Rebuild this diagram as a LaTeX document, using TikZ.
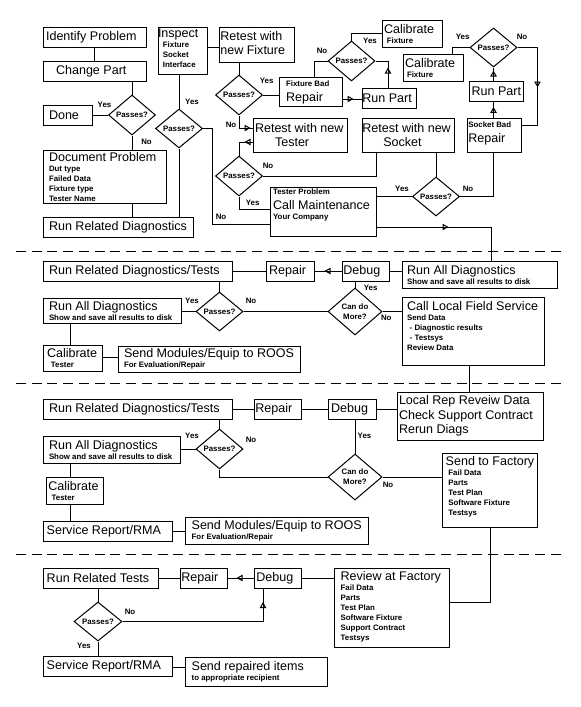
\documentclass[tikz,border=0pt]{standalone}
\usepackage{fontspec}
\setmainfont{Liberation Sans}
\usetikzlibrary{shapes.geometric,arrows.meta,decorations.markings}
\newcommand\bigtxt{\fontsize{9.4pt}{11pt}\selectfont\mdseries}
\newcommand\smtxt{\fontsize{5.9pt}{7.5pt}\selectfont\bfseries}
\newcommand\tB[1]{{\bigtxt\mbox{#1}\par}}
\newcommand\tS[1]{{\smtxt\mbox{#1}\par}}
\newcommand\indl[1]{\leftskip=#1\relax}
\newcommand\bx[7]{%
  \pgfmathsetlengthmacro\bxw{(#4-#2)*0.75pt-2pt}%
  \pgfmathsetlengthmacro\bxh{(#5-#3)*0.75pt-3pt}%
  \node[bxs] (#1) at ({(#2+#4)/2},{(#3+#5)/2}) {\parbox[c][\bxh][#6]{\bxw}{\raggedright #7}};%
}
\tikzset{
  bxs/.style={draw, line width=0.75pt, fill=white, inner xsep=1pt, inner ysep=1.5pt},
  dia/.style={draw, diamond, line width=0.75pt, fill=white, inner sep=0pt, font=\smtxt, align=center},
  lbl/.style={font=\smtxt, inner sep=0pt},
  marr/.style={postaction={decorate}, decoration={markings, mark=at position #1 with {\arrow{Triangle[open,length=4.5pt,width=4.8pt]}}}},
  dashsep/.style={line width=0.75pt, dash pattern=on 7.5pt off 4.3pt}
}
\begin{document}
\begin{tikzpicture}[x=0.75pt, y=-0.75pt, line width=0.75pt]
\fill[white] (0,0) rectangle (581,707);
\useasboundingbox (0,0) rectangle (581,707);

% ---------- Section 1 boxes
\bx{ip}{43}{27}{146}{47}{c}{\indl{1.3pt}\tB{Identify Problem}}
\bx{cp}{43}{61}{146}{81}{c}{\indl{8.8pt}\tB{Change Part}}
\bx{done}{43}{105}{92}{125}{c}{\indl{3.5pt}\tB{Done}}
\bx{dp}{43}{150}{166}{203}{c}{\indl{3.5pt}\tB{Document Problem}\tS{Dut type}\tS{Failed Data}\tS{Fixture type}\tS{Tester Name}}
\bx{rrd}{43}{217}{193}{237}{c}{\indl{3.5pt}\tB{Run Related Diagnostics}}
\bx{insp}{158}{27}{207}{74}{t}{\indl{-1pt}\tB{Inspect}\tS{\hspace*{3.7pt}Fixture}\tS{\hspace*{3.7pt}Socket}\tS{\hspace*{3.7pt}Interface}}
\bx{rf}{219}{27}{294}{62}{t}{\vspace*{1.5pt}\tB{Retest with}\tB{new Fixture}}
\bx{fbr}{279}{77}{342}{106}{t}{\indl{4.3pt}\vspace*{1.5pt}\tS{Fixture Bad}\tB{Repair}}
\bx{cft}{382}{20}{442}{47}{c}{\indl{0.5pt}\tB{Calibrate}\tS{\hspace*{2.2pt}Fixture}}
\bx{rp1}{362}{88}{416}{108}{c}{\indl{-0.75pt}\tB{Run Part}}
\bx{rp2}{469}{81}{523}{101}{c}{\indl{1pt}\tB{Run Part}}
\bx{cfr}{403}{54}{463}{81}{c}{\indl{0.5pt}\tB{Calibrate}\tS{\hspace*{1.5pt}Fixture}}
\bx{rt}{253}{118}{347}{152}{c}{\indl{0.5pt}\tB{Retest with new}\tB{\hspace*{15pt}Tester}}
\bx{rs}{362}{118}{454}{152}{c}{\indl{-0.75pt}\tB{Retest with new}\tB{\hspace*{15.75pt}Socket}}
\bx{sbr}{467}{118}{521}{152}{t}{\vspace*{1.5pt}\tS{Socket Bad}\tB{Repair}}
\bx{cm}{270}{187}{376}{236}{t}{\indl{1.3pt}\tS{Tester Problem}\tB{Call Maintenance}\tS{Your Company}}

% ---------- Section 1 diamonds
\node[dia, minimum width=35.25pt, minimum height=30pt] (d1) at (132,115) {Passes?};
\node[dia, minimum width=35.25pt, minimum height=29.25pt] (d2) at (179,128.5) {Passes?};
\node[dia, minimum width=35.25pt, minimum height=30pt] (d3) at (239,95) {Passes?};
\node[dia, minimum width=35.25pt, minimum height=30pt] (d4) at (239,176) {Passes?};
\node[dia, minimum width=35.25pt, minimum height=29.25pt] (d5) at (436,196.5) {Passes?};
\node[dia, minimum width=35.25pt, minimum height=30pt] (d6) at (351.5,61) {Passes?};
\node[dia, minimum width=35.25pt, minimum height=29.25pt] (d7) at (493.5,47.5) {Passes?};

% ---------- Section 2
\bx{rrdt2}{43}{261}{232}{281}{c}{\indl{3.5pt}\tB{Run Related Diagnostics/Tests}}
\bx{rep2}{266}{261}{314}{281}{c}{\indl{1.3pt}\tB{Repair}}
\bx{dbg2}{342}{261}{389}{281}{c}{\tB{Debug}}
\bx{rad2r}{402}{261}{557}{288}{c}{\indl{2.8pt}\tB{Run All Diagnostics}\tS{Show and save all results to disk}}
\bx{clfs}{402}{297}{544}{365}{t}{\indl{2.8pt}\vspace*{2pt}\tB{Call Local Field Service}\tS{Send Data}\tS{\hspace*{2pt}- Diagnostic results}\tS{\hspace*{2pt}- Testsys}\tS{Review Data}}
\bx{rad2l}{43}{298}{181}{323}{c}{\indl{3.5pt}\tB{Run All Diagnostics}\tS{Show and save all results to disk}}
\bx{cal2}{43}{345}{102}{371}{c}{\indl{2pt}\tB{Calibrate}\tS{\hspace*{3pt}Tester}}
\bx{smr2}{118}{346}{300}{372}{c}{\indl{3.5pt}\tB{Send Modules/Equip to ROOS}\tS{For Evaluation/Repair}}
\node[dia, minimum width=35.25pt, minimum height=29.25pt] (d8) at (219.5,311.5) {Passes?};
\node[dia, minimum width=40.5pt, minimum height=35.25pt] (d9) at (355,311.5) {Can do\\More?};

% ---------- Section 3
\bx{rrdt3}{43}{399}{232}{419}{c}{\indl{3.5pt}\tB{Run Related Diagnostics/Tests}}
\bx{rep3}{254}{399}{301}{419}{c}{\tB{Repair}}
\bx{dbg3}{328}{399}{376}{419}{c}{\indl{1.3pt}\tB{Debug}}
\bx{lrr}{397}{392}{543}{440}{c}{\indl{0.5pt}\tB{Local Rep Reveiw Data}\tB{Check Support Contract}\tB{Rerun Diags}}
\bx{rad3}{43}{436}{180}{463}{c}{\indl{3.5pt}\tB{Run All Diagnostics}\tS{Show and save all results to disk}}
\bx{cal3}{46}{477}{103}{504}{c}{\indl{0.75pt}\tB{Calibrate}\tS{\hspace*{2.5pt}Tester}}
\bx{sr3}{43}{521}{172}{541}{c}{\indl{1.8pt}\tB{Service Report/RMA}}
\bx{smr3}{185}{517}{368}{544}{c}{\indl{4pt}\tB{Send Modules/Equip to ROOS}\tS{For Evaluation/Repair}}
\bx{stf}{442}{453}{537}{527}{t}{\indl{1.8pt}\vspace*{1pt}\tB{Send to Factory}\tS{\hspace*{2pt}Fail Data}\tS{\hspace*{2pt}Parts}\tS{\hspace*{2pt}Test Plan}\tS{\hspace*{2pt}Software Fixture}\tS{\hspace*{2pt}Testsys}}
\node[dia, minimum width=35.25pt, minimum height=30pt] (d10) at (219.5,449) {Passes?};
\node[dia, minimum width=40.5pt, minimum height=34.5pt] (d11) at (355,477) {Can do\\More?};

% ---------- Section 4
\bx{rrt4}{43}{568}{158}{588}{c}{\indl{1.8pt}\tB{Run Related Tests}}
\bx{rep4}{180}{568}{227}{588}{c}{\tB{Repair}}
\bx{dbg4}{254}{568}{301}{588}{c}{\indl{0.75pt}\tB{Debug}}
\bx{rof}{334}{568}{449}{647}{t}{\indl{4pt}\vspace*{1.3pt}\tB{Review at Factory}\tS{Fail Data}\tS{Parts}\tS{Test Plan}\tS{Software Fixture}\tS{Support Contract}\tS{Testsys}}
\bx{sr4}{43}{656}{172}{676}{c}{\indl{1.8pt}\tB{Service Report/RMA}}
\bx{sri}{185}{657}{327}{686}{c}{\indl{4pt}\tB{Send repaired items}\tS{to appropriate recipient}}
\node[dia, minimum width=36pt, minimum height=29.25pt] (d12) at (98,621.5) {Passes?};

% ---------- dashed separators
\draw[dashsep] (16,251) -- (563,251);
\draw[dashsep] (16,383) -- (563,383);
\draw[dashsep] (16,554) -- (563,554);

% ---------- Section 1 connectors
\draw (ip.south) -- (cp.north);
\draw (cp.south -| d1.north) -- (d1.north);
\draw (d1.west) -- (done.east);
\draw (d1.south) -- (d1.south |- dp.north);
\draw (d1.south |- dp.south) -- (d1.south |- rrd.north);
\draw (insp.south -| d2.north) -- (d2.north);
\draw (d2.south) -- (d2.south |- rrd.north);
\draw (d2.east) -- ++(9,0) |- (cm.west |- 0,224);
\draw (insp.east |- 0,47) -- (rf.west |- 0,47);
\draw (rf.south -| d3.north) -- (d3.north);
\draw (d3.east) -- (fbr.west |- d3.east);
\draw[marr=18pt] (d3.south) |- (rt.west |- 0,128);
\draw[marr=6pt] (rt.west |- 0,142) -| (d4.north);
\draw (d4.east) -| (rs.south -| 376,0);
\draw (d4.south) |- (cm.west |- 0,209);
\draw (rs.south -| d5.north) -- (d5.north);
\draw (d5.west) -- (cm.east |- d5.west);
\draw (d5.east) -| (sbr.south -| d7.south);
\draw[marr=8pt] (sbr.north -| d7.south) -- (rp2.south -| d7.south);
\draw[marr=7.5pt] (rp2.north -| d7.south) -- (d7.south);
\draw (d7.west) -| (cfr.north -| 452,0);
\draw[marr=45pt] (d7.east) -- ++(20,0) |- (sbr.east |- 0,125);
\draw[marr=15pt] (rp1.north -| 388,0) |- (d6.east);
\draw (d6.west) -| (fbr.north -| 314,0);
\draw (d6.north) |- (cft.west |- 0,33);
\draw[marr=8.25pt] (fbr.east |- 0,99) -- (rp1.west |- 0,99);
\draw[marr=54pt] (cm.east |- 0,227) -| (rad2r.north -| 491,0);

% ---------- Section 2 connectors
\draw (rrdt2.east) -- (rep2.west);
\draw[marr=12.75pt] (dbg2.west) -- (rep2.east);
\draw (dbg2.east) -- (rad2r.west |- dbg2.east);
\draw (dbg2.south -| d9.north) -- (d9.north);
\draw (d9.west) -- (d8.east);
\draw (d9.east) -- (clfs.west |- d9.east);
\draw (clfs.south -| 469,0) -- (lrr.north -| 469,0);
\draw (rrdt2.south -| d8.north) -- (d8.north);
\draw (d8.west) -- (rad2l.east |- d8.west);
\draw (rad2l.south -| 70,0) -- (cal2.north -| 70,0);
\draw (cal2.east |- 0,357) -- (smr2.west |- 0,357);

% ---------- Section 3 connectors
\draw (rrdt3.east) -- (rep3.west);
\draw (rep3.east) -- (dbg3.west);
\draw (dbg3.east) -- (lrr.west |- dbg3.east);
\draw (dbg3.south -| d11.north) -- (d11.north);
\draw (d11.east) -- (stf.west |- d11.east);
\draw (d10.south) |- (d11.west);
\draw (rrdt3.south -| d10.north) -- (d10.north);
\draw (d10.west) -- (rad3.east |- d10.west);
\draw (rad3.south -| 70,0) -- (cal3.north -| 70,0);
\draw (cal3.south -| 70,0) -- (sr3.north -| 70,0);
\draw (sr3.east |- 0,531) -- (smr3.west |- 0,531);
\draw (stf.south -| 490,0) |- (rof.east |- 0,602);

% ---------- Section 4 connectors
\draw (rrt4.east) -- (rep4.west);
\draw[marr=12.75pt] (dbg4.west) -- (rep4.east);
\draw (dbg4.east) -- (rof.west |- dbg4.east);
\draw (rrt4.south -| d12.north) -- (d12.north);
\draw[marr=120pt] (d12.east) -| (dbg4.south -| 263,0);
\draw (d12.south) -- (d12.south |- sr4.north);
\draw (sr4.east |- 0,667) -- (sri.west |- 0,667);

% ---------- Yes / No labels
\node[lbl] (y1) at (104.5,105) {Yes};
\node[lbl] (n1) at (146.5,142) {No};
\node[lbl] (y2) at (192,101.7) {Yes};
\node[lbl] (n2) at (221,217.3) {No};
\node[lbl] (y3) at (266.7,81.3) {Yes};
\node[lbl] (n3) at (231,125) {No};
\node[lbl] (n4) at (268,165.7) {No};
\node[lbl] (y4) at (252.7,202.7) {Yes};
\node[lbl] (y5) at (402,189) {Yes};
\node[lbl] (n5) at (468,189) {No};
\node[lbl] (n6) at (322,51) {No};
\node[lbl] (y6) at (370,41) {Yes};
\node[lbl] (y7) at (462.7,36.7) {Yes};
\node[lbl] (n7) at (522,36.7) {No};
\node[lbl] (y8) at (192,301) {Yes};
\node[lbl] (n8) at (251,301) {No};
\node[lbl] (y9) at (370.7,288.3) {Yes};
\node[lbl] (n9) at (386.3,318.3) {No};
\node[lbl] (y10) at (192,436) {Yes};
\node[lbl] (n10) at (251,440) {No};
\node[lbl] (y11) at (364.5,435.7) {Yes};
\node[lbl] (n11) at (388,485) {No};
\node[lbl] (n12) at (130,612) {No};
\node[lbl] (y12) at (84,646) {Yes};
\end{tikzpicture}
\end{document}
